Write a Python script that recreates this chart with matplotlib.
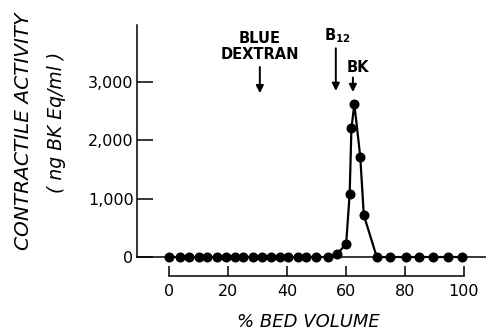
import matplotlib
matplotlib.use("Agg")
import matplotlib.pyplot as plt

# ── DATA ───────────────────────────────────────────────
bed_volume = [0, 3.6, 6.8, 10, 12.9, 16.1, 19.2, 22.2, 25.1, 28.3, 31.4, 34.4,
              37.5, 40.4, 43.6, 46.5, 49.9, 53.8, 57, 60, 61.2, 61.8, 62.8,
              64.8, 66, 70.4, 74.9, 80.3, 84.8, 89.6, 94.7, 99.4]
activity = [0, 0, 0, 0, 0, 0, 0, 0, 0, 0, 0, 0,
            0, 0, 0, 0, 0, 0, 60, 220, 1080, 2210, 2620,
            1720, 720, 0, 0, 0, 0, 0, 0, 0]

x_ticks = [0, 20, 40, 60, 80, 100]
y_ticks = [0, 1000, 2000, 3000]

# markers: label, x, arrow top, arrow tip, text position
markers = ["BLUE\nDEXTRAN", r"B$_{\mathbf{12}}$", "BK"]
marker_x = [30.7, 56.5, 62.3]
arrow_top = [3260, 3580, 3080]
arrow_tip = [2810, 2850, 2830]
label_x = [30.7, 57.0, 64.0]
label_y = [3610, 3800, 3250]

# ── PLOT ───────────────────────────────────────────────
fig = plt.figure(figsize=(4.86, 3.34), dpi=100)
ax = fig.add_axes([0.282, 0.2305, 0.718, 0.6946])

ax.plot(bed_volume, activity, color="black", lw=1.6, marker="o",
        markersize=6.2, clip_on=False, zorder=3)
ax.axhline(0, color="black", lw=1.1, zorder=1, clip_on=False)

ax.set_xlim(-11, 107.5)
ax.set_ylim(0, 3980)

for s in ["top", "right"]:
    ax.spines[s].set_visible(False)
ax.spines["left"].set_linewidth(1.1)
ax.spines["bottom"].set_linewidth(1.1)
ax.spines["bottom"].set_position(("outward", 13.7))
ax.spines["bottom"].set_bounds(0, 100)

ax.set_xticks(x_ticks)
ax.set_xticklabels([str(v) for v in x_ticks])
ax.set_yticks(y_ticks)
ax.set_yticklabels([f"{v:,}" for v in y_ticks])
ax.tick_params(axis="x", direction="in", length=7.2, width=1.1, pad=6,
               labelsize=11.5)
ax.tick_params(axis="y", direction="in", length=11.5, width=1.1, pad=2.5,
               labelsize=11.5)

for lab, x, y0, y1, lx, ly in zip(markers, marker_x, arrow_top, arrow_tip,
                                  label_x, label_y):
    ax.annotate("", xy=(x, y1), xytext=(x, y0),
                arrowprops=dict(arrowstyle="-|>", color="black", lw=1.4,
                                mutation_scale=11, shrinkA=0, shrinkB=0))
    ax.text(lx, ly, lab, ha="center", va="center", fontsize=10.5,
            fontweight="bold", linespacing=1.15)

fig.text(0.049, 0.608, "CONTRACTILE ACTIVITY", rotation=90, ha="center",
         va="center", fontsize=14.5, style="italic")
fig.text(0.117, 0.635, "( ng BK Eq/ml )", rotation=90, ha="center",
         va="center", fontsize=13.5, style="italic")
fig.text(0.634, 0.035, "% BED VOLUME", ha="center", va="center",
         fontsize=13, style="italic")

fig.savefig("out.png", dpi=100)
